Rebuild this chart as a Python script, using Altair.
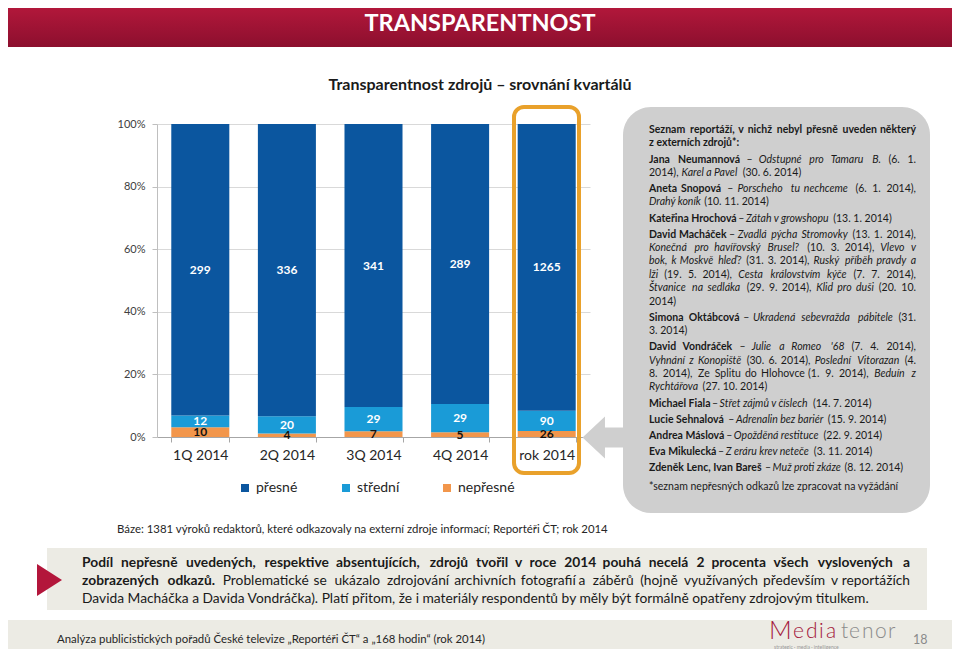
import unicodedata
import altair as alt
import pandas as pd

# ---------------- chart data ----------------
categories = ["1Q 2014", "2Q 2014", "3Q 2014", "4Q 2014", "rok 2014"]
presne = [299, 336, 341, 289, 1265]
stredni = [12, 20, 29, 29, 90]
nepresne = [10, 4, 7, 5, 26]
kinds = ["přesné", "střední", "nepřesné"]
kind_colors = ["#0b569f", "#1a9bd7", "#f2964b"]
y_ticks = [0, 0.2, 0.4, 0.6, 0.8, 1.0]

# ---------------- layout (page pixels) ----------------
W, H = 433, 313
OX, OY = 157, 124
PAD = {"left": 149, "top": 116, "right": 944 - 149 - W, "bottom": 641 - 116 - H}
FONT = "Lato"

rows = []
for i, c in enumerate(categories):
    for k, vals, order in ((kinds[2], nepresne, 0), (kinds[1], stredni, 1), (kinds[0], presne, 2)):
        rows.append({"cat": c, "kind": k, "value": vals[i], "ord": order,
                     "tcolor": "#111111" if order == 0 else "#ffffff"})
bars_df = pd.DataFrame(rows)

# ---------------- text width model (Arial-like table, scaled for Lato) ----------------
LOW_R = dict(zip("abcdefghijklmnopqrstuvwxyz", [556,556,500,556,556,278,556,556,222,222,500,222,833,556,556,556,556,333,500,278,556,500,722,500,500,500]))
LOW_B = dict(zip("abcdefghijklmnopqrstuvwxyz", [556,611,556,611,556,333,611,611,278,278,556,278,889,611,611,611,611,389,556,333,611,556,778,556,556,500]))
UP_R = dict(zip("ABCDEFGHIJKLMNOPQRSTUVWXYZ", [667,667,722,722,667,611,778,722,278,500,667,556,833,722,778,667,778,722,667,611,722,667,944,667,667,611]))
UP_B = dict(zip("ABCDEFGHIJKLMNOPQRSTUVWXYZ", [722,722,722,722,667,611,778,722,278,556,722,611,833,722,778,667,778,722,667,611,722,667,944,667,667,611]))
PUNCT = {".": 278, ",": 278, ":": 300, ";": 300, "(": 333, ")": 333, "–": 556,
         "-": 333, "*": 389, "?": 556, "'": 191, "„": 333, "“": 333, "%": 889}
FACT = {"n": 0.96, "i": 0.97, "b": 0.94, "l": 0.9}


def cw(ch, bold):
    base = unicodedata.normalize("NFD", ch)[0]
    if base in LOW_R:
        return (LOW_B if bold else LOW_R)[base]
    if base in UP_R:
        return (UP_B if bold else UP_R)[base]
    if base.isdigit():
        return 600
    return PUNCT.get(base, 556)


def tw(s, style, size):
    em = 0.0
    for ch in s:
        em += 0.2 if ch == " " else cw(ch, style == "b") / 1000.0 * FACT[style]
    return em * size


texts = []


def put(x, y, s, style="n", size=11, color="#1a1a1a", align="left"):
    texts.append({"px": x - OX, "py": y - OY, "text": s, "style": style, "size": size,
                  "color": color, "align": align})


def layout(runs, x0, x1, y, size, justify, color="#1a1a1a"):
    if justify:
        words = [(st, w) for st, t in runs for w in t.split()]
        mingap = 0.22 * size
        need = sum(tw(w, st, size) for st, w in words) + mingap * (len(words) - 1)
        if need > x1 - x0:
            size = size * (x1 - x0) / need
            mingap = 0.22 * size
        widths = [tw(w, st, size) for st, w in words]
        gap = (x1 - x0 - sum(widths)) / max(len(words) - 1, 1)
        gap = max(gap, mingap)
        x = x0
        for j, ((st, w), wd) in enumerate(zip(words, widths)):
            if j == len(words) - 1 and len(words) > 1:
                put(x1, y, w, st, size, color, "right")
            else:
                put(x, y, w, st, size, color, "left")
            x += wd + gap
    else:
        x = x0
        for st, t in runs:
            lead = len(t) - len(t.lstrip(" "))
            x += tw(" " * lead, st, size)
            s = t.strip(" ")
            if s:
                put(x, y, s, st, size, color, "left")
                x += tw(s, st, size)
                trail = len(t) - len(t.rstrip(" "))
                x += tw(" " * trail, st, size)


# ---------------- slide texts ----------------
put(480, 24, "TRANSPARENTNOST", "b", 23.5, "#ffffff", "center")
put(480, 85, "Transparentnost zdrojů – srovnání kvartálů", "b", 16, "#1a1a1a", "center")

box_lines = [
    ("h", True, [("b", "Seznam reportáží, v nichž nebyl přesně uveden některý")]),
    ("h", False, [("b", "z externích zdrojů*:")]),
    ("p", True, [("b", "Jana Neumannová"), ("n", " – "), ("i", "Odstupné pro Tamaru B."), ("n", " (6. 1.")]),
    ("h", False, [("n", "2014), "), ("i", "Karel a Pavel"), ("n", " (30. 6. 2014)")]),
    ("p", True, [("b", "Aneta Snopová"), ("n", " – "), ("i", "Porscheho tu nechceme"), ("n", " (6. 1. 2014),")]),
    ("h", False, [("i", "Drahý koník"), ("n", " (10. 11. 2014)")]),
    ("p", False, [("b", "Kateřina Hrochová"), ("n", " – "), ("i", "Zátah v growshopu"), ("n", " (13. 1. 2014)")]),
    ("p", True, [("b", "David Macháček"), ("n", " – "), ("i", "Zvadlá pýcha Stromovky"), ("n", " (13. 1. 2014),")]),
    ("h", True, [("i", "Konečná pro havířovský Brusel?"), ("n", " (10. 3. 2014), "), ("i", "Vlevo v")]),
    ("h", True, [("i", "bok, k Moskvě hleď?"), ("n", " (31. 3. 2014), "), ("i", "Ruský příběh pravdy a")]),
    ("h", True, [("i", "lži"), ("n", " (19. 5. 2014), "), ("i", "Cesta královstvím kýče"), ("n", " (7. 7. 2014),")]),
    ("h", True, [("i", "Štvanice na sedláka"), ("n", " (29. 9. 2014), "), ("i", "Klid pro duši"), ("n", " (20. 10.")]),
    ("h", False, [("n", "2014)")]),
    ("p", True, [("b", "Simona Oktábcová"), ("n", " – "), ("i", "Ukradená sebevražda pábitele"), ("n", " (31.")]),
    ("h", False, [("n", "3. 2014)")]),
    ("p", True, [("b", "David Vondráček"), ("n", " – "), ("i", "Julie a Romeo '68"), ("n", " (7. 4. 2014),")]),
    ("h", True, [("i", "Vyhnání z Konopiště"), ("n", " (30. 6. 2014), "), ("i", "Poslední Vitorazan"), ("n", " (4.")]),
    ("h", True, [("n", "8. 2014), Ze Splitu do Hlohovce (1. 9. 2014), "), ("i", "Beduín z")]),
    ("h", False, [("i", "Rychtářova"), ("n", " (27. 10. 2014)")]),
    ("p", False, [("b", "Michael Fiala"), ("n", " – "), ("i", "Střet zájmů v číslech"), ("n", " (14. 7. 2014)")]),
    ("p", False, [("b", "Lucie Sehnalová"), ("n", " – "), ("i", "Adrenalin bez bariér"), ("n", " (15. 9. 2014)")]),
    ("p", False, [("b", "Andrea Máslová"), ("n", " – "), ("i", "Opožděná restituce"), ("n", " (22. 9. 2014)")]),
    ("p", False, [("b", "Eva Mikulecká"), ("n", " – "), ("i", "Z eráru krev neteče"), ("n", " (3. 11. 2014)")]),
    ("p", False, [("b", "Zdeněk Lenc, Ivan Bareš"), ("n", " – "), ("i", "Muž proti zkáze"), ("n", " (8. 12. 2014)")]),
    ("f", False, [("n", "*seznam nepřesných odkazů lze zpracovat na vyžádání")]),
]
y = 130.0
step = {"h": 13.4, "p": 16.1, "f": 19.5}
for j, (kind, just, runs) in enumerate(box_lines):
    if j > 0:
        y += step[kind]
    layout(runs, 649, 916, y, 10.5, just)

put(117, 530, "Báze: 1381 výroků redaktorů, které odkazovaly na externí zdroje informací; Reportéři ČT; rok 2014",
    "n", 11.4, "#262626", "left")

summary = [
    (563, True, [("b", "Podíl nepřesně uvedených, respektive absentujících, zdrojů tvořil v roce 2014 pouhá necelá 2 procenta všech vyslovených a")]),
    (581, True, [("b", "zobrazených odkazů."), ("n", " Problematické se ukázalo zdrojování archivních fotografií a záběrů (hojně využívaných především v reportážích")]),
    (599, False, [("n", "Davida Macháčka a Davida Vondráčka). Platí přitom, že i materiály respondentů by měly být formálně opatřeny zdrojovým titulkem.")]),
]
for yy, just, runs in summary:
    layout(runs, 82, 910, yy, 13.8, just)

put(57, 640, "Analýza publicistických pořadů České televize „Reportéři ČT“ a „168 hodin“ (rok 2014)",
    "n", 11.4, "#262626", "left")
# logo
put(769, 630.5, "M", "l", 25, "#a3173b", "left")
for ch, xx, col in (("e", 793, "#a3173b"), ("d", 806, "#a3173b"), ("i", 819, "#a3173b"), ("a", 826, "#a3173b"),
                    ("t", 841, "#8a8a8a"), ("e", 849, "#8a8a8a"), ("n", 862, "#8a8a8a"), ("o", 875, "#8a8a8a"),
                    ("r", 888, "#8a8a8a")):
    put(xx, 632, ch, "l", 21, col, "left")
put(774, 646.5, "strategic  ·  media  ·  intelligence", "n", 5, "#9a9a9a", "left")
put(913, 640, "18", "n", 12.5, "#8a8a8a", "left")

tdf = pd.DataFrame(texts)

# ---------------- decorations ----------------
one = pd.DataFrame({"d": [0]})


def rect(x1, y1, x2, y2, **kw):
    return alt.Chart(one).mark_rect(**kw).encode(
        x=alt.value(x1 - OX), x2=alt.value(x2 - OX), y=alt.value(y1 - OY), y2=alt.value(y2 - OY))


def symbol(cx, cy, path, side, color):
    return alt.Chart(one).mark_point(shape=path, size=side * side, filled=True, color=color,
                                     opacity=1, strokeWidth=0).encode(
        x=alt.value(cx - OX), y=alt.value(cy - OY))


header = rect(0, 0, 960, 47, fill={"gradient": "linear", "x1": 0, "x2": 0, "y1": 0, "y2": 1,
                                    "stops": [{"offset": 0, "color": "#b9193d"},
                                              {"offset": 1, "color": "#8c0f2e"}]})
footer = rect(0, 620, 960, 660, color="#ecebe4")
summary_box = rect(47, 548, 927, 610, color="#ecebe4")
gray_box = rect(623, 107, 930, 513, color="#cfcfcf", cornerRadius=28)
arrow = symbol(603.5, 437.5, "M -1 0 L 0.07 -1 L 0.07 -0.48 L 1 -0.48 L 1 0.48 L 0.07 0.48 L 0.07 1 Z", 42, "#cfcfcf")
red_tri = symbol(49.5, 580, "M -0.78 -1 L 0.78 0 L -0.78 1 Z", 32, "#b3163b")
highlight = rect(514, 107, 579, 473, fillOpacity=0, stroke="#e9a12b", strokeWidth=4, cornerRadius=10)

# ---------------- bars ----------------
x_enc = alt.X("cat:N", sort=categories, title=None,
              scale=alt.Scale(paddingInner=0.33, paddingOuter=0.165),
              axis=alt.Axis(labelAngle=0, labelFont=FONT, labelFontSize=14, labelColor="#262626",
                            labelPadding=6, tickBand="extent", tickSize=5, tickColor="#a6a6a6",
                            domainColor="#a6a6a6", grid=False))
y_enc = alt.Y("value:Q", stack="normalize", title=None, scale=alt.Scale(domain=[0, 1]),
              axis=alt.Axis(format="%", values=y_ticks, labelFont=FONT, labelFontSize=11,
                            labelColor="#404040", labelPadding=7, tickSize=5, tickColor="#bfbfbf",
                            domainColor="#bfbfbf", gridColor="#d9d9d9"))
bars = alt.Chart(bars_df).mark_bar().encode(
    x=x_enc, y=y_enc,
    color=alt.Color("kind:N", scale=alt.Scale(domain=kinds, range=kind_colors),
                    legend=alt.Legend(title=None, orient="none", legendX=81, legendY=357,
                                      direction="horizontal", symbolType="square", symbolSize=64,
                                      symbolStrokeWidth=0, labelFont=FONT, labelFontSize=14,
                                      labelColor="#262626", labelOffset=4, columnPadding=26,
                                      gridAlign="all", padding=0)),
    order=alt.Order("ord:Q"))

labels = alt.Chart(bars_df).transform_stack(
    stack="value", groupby=["cat"], as_=["s0", "s1"], offset="normalize",
    sort=[alt.SortField("ord", order="ascending")]
).transform_calculate(mid="(datum.s0 + datum.s1) / 2").mark_text(
    font=FONT, fontWeight="bold", fontSize=12, baseline="middle"
).encode(
    x=alt.X("cat:N", sort=categories, title=None),
    y=alt.Y("mid:Q", title=None),
    text=alt.Text("value:Q"),
    color=alt.Color("tcolor:N", scale=None, legend=None))

# ---------------- texts ----------------
STY = {"n": ("normal", "normal"), "b": ("bold", "normal"), "i": ("normal", "italic"), "l": (300, "normal")}
text_layers = []
for (st, al), sub in tdf.groupby(["style", "align"]):
    fw, fs = STY[st]
    text_layers.append(
        alt.Chart(sub.reset_index(drop=True)).mark_text(
            align=al, baseline="middle", font=FONT, fontWeight=fw, fontStyle=fs
        ).encode(
            x=alt.X("px:Q", scale=None, axis=None),
            y=alt.Y("py:Q", scale=None, axis=None),
            text=alt.Text("text:N"),
            size=alt.Size("size:Q", scale=None, legend=None),
            color=alt.Color("color:N", scale=None, legend=None)))

chart = alt.layer(
    header, footer, summary_box, gray_box, arrow, red_tri, bars, labels, highlight, *text_layers
).properties(
    width=W, height=H, padding=PAD, autosize=alt.AutoSizeParams(type="none"), background="white"
).configure_view(strokeWidth=0)

chart.save("out.html", embed_options={"renderer": "svg", "actions": False})
